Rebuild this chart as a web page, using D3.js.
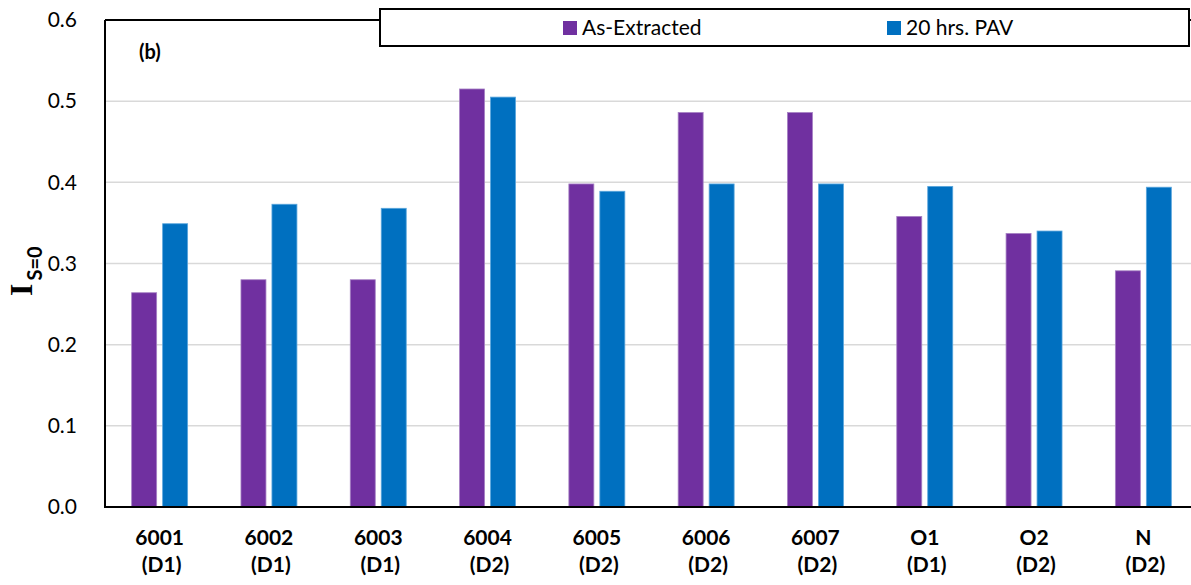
<!DOCTYPE html>
<html>
<head>
<meta charset="utf-8">
<script src="https://cdn.jsdelivr.net/npm/d3@7"></script>
<style>
  html, body { margin: 0; padding: 0; background: #fff; }
  svg { display: block; font-family: Lato, "Open Sans", sans-serif; }
</style>
</head>
<body>
<div id="chart"></div>
<script>
const categories = ['6001', '6002', '6003', '6004', '6005', '6006', '6007', 'O1', 'O2', 'N']
const groups = ['(D1)', '(D1)', '(D1)', '(D2)', '(D2)', '(D2)', '(D2)', '(D1)', '(D2)', '(D2)']
const seriesNames = ['As-Extracted', '20 hrs. PAV']
const asExtracted = [0.264, 0.280, 0.280, 0.515, 0.398, 0.486, 0.486, 0.358, 0.337, 0.291]
const pav20 = [0.349, 0.373, 0.368, 0.505, 0.389, 0.398, 0.398, 0.395, 0.340, 0.394]
const yTicks = [0, 0.1, 0.2, 0.3, 0.4, 0.5, 0.6]

const width = 1191
const height = 585
const PURPLE = '#7030a0'
const BLUE = '#0070c0'

const svg = d3.select('#chart')
  .append('svg')
    .attr('width', width)
    .attr('height', height)

const plotLeft = 105, plotRight = 1198, plotTop = 20, plotBottom = 507

const y = d3.scaleLinear()
  .domain([0, 0.6])
  .range([plotBottom, plotTop])

const x0 = d3.scaleBand()
  .domain(categories)
  .range([plotLeft, plotRight])
  .paddingInner(0.488)
  .paddingOuter(0.244)

const x1 = d3.scaleBand()
  .domain(seriesNames)
  .range([0, x0.bandwidth()])
  .paddingInner(0.1935)

// gridlines
svg.append('g')
  .selectAll('line')
  .data(yTicks.filter(t => t > 0 && t < 0.6))
  .join('line')
    .attr('x1', plotLeft)
    .attr('x2', width)
    .attr('y1', d => y(d))
    .attr('y2', d => y(d))
    .attr('stroke', '#d9d9d9')
    .attr('stroke-width', 1.5)

// bars
const rows = categories.map((c, i) => ({ cat: c, values: [asExtracted[i], pav20[i]] }))
const color = d3.scaleOrdinal().domain(seriesNames).range([PURPLE, BLUE])
const edge = d3.scaleOrdinal().domain(seriesNames).range(['#a680c4', '#5aa6dc'])

svg.append('g')
  .selectAll('g')
  .data(rows)
  .join('g')
    .attr('transform', d => `translate(${x0(d.cat)},0)`)
  .selectAll('rect')
  .data(d => d.values.map((v, j) => ({ key: seriesNames[j], v })))
  .join('rect')
    .attr('x', d => x1(d.key))
    .attr('y', d => y(d.v))
    .attr('width', x1.bandwidth())
    .attr('height', d => y(0) - y(d.v))
    .attr('fill', d => color(d.key))
    .attr('stroke', d => edge(d.key))
    .attr('stroke-width', 0.8)

// frame: left axis, top border, bottom axis
svg.append('line')
  .attr('x1', plotLeft).attr('x2', plotLeft)
  .attr('y1', plotTop).attr('y2', plotBottom)
  .attr('stroke', '#000').attr('stroke-width', 2)
svg.append('line')
  .attr('x1', plotLeft).attr('x2', width)
  .attr('y1', plotTop).attr('y2', plotTop)
  .attr('stroke', '#000').attr('stroke-width', 2)
svg.append('line')
  .attr('x1', plotLeft - 1).attr('x2', width)
  .attr('y1', plotBottom).attr('y2', plotBottom)
  .attr('stroke', '#000').attr('stroke-width', 2)

// y tick labels
const yAxis = d3.axisLeft(y)
  .tickValues(yTicks)
  .tickFormat(d3.format('.1f'))
  .tickSize(0)
  .tickPadding(28)
const ya = svg.append('g')
  .attr('transform', `translate(${plotLeft},0)`)
  .call(yAxis)
ya.select('.domain').remove()
ya.selectAll('text')
  .attr('font-family', 'Lato, sans-serif')
  .attr('font-size', 21)
  .attr('fill', '#000')

// x labels, two lines
const xl = svg.append('g')
  .selectAll('text')
  .data(categories)
  .join('text')
    .attr('x', d => x0(d) + x0.bandwidth() / 2)
    .attr('text-anchor', 'middle')
    .attr('font-size', 21)
    .attr('font-weight', 'bold')
    .attr('fill', '#000')
xl.append('tspan')
  .attr('x', d => x0(d) + x0.bandwidth() / 2)
  .attr('y', 545)
  .text(d => d)
xl.append('tspan')
  .attr('x', d => x0(d) + x0.bandwidth() / 2 + 2)
  .attr('y', 572)
  .text((d, i) => groups[i])

// y axis title I_S=0
const yt = svg.append('text')
  .attr('transform', 'translate(32,296) rotate(-90)')
  .attr('font-weight', 'bold')
  .attr('fill', '#000')
yt.append('tspan')
  .attr('font-family', '"Liberation Serif", "Times New Roman", serif')
  .attr('font-size', 32)
  .text('I')
yt.append('tspan')
  .attr('font-family', 'Lato, sans-serif')
  .attr('font-size', 20)
  .attr('dy', 10)
  .attr('dx', 3)
  .text('S=0')

// panel label
svg.append('text')
  .attr('x', 139)
  .attr('y', 59)
  .attr('font-size', 20)
  .attr('font-weight', 'bold')
  .text('(b)')

// legend
const legend = svg.append('g')
legend.append('rect')
  .attr('x', 380).attr('y', 9)
  .attr('width', 809).attr('height', 37)
  .attr('fill', '#fff')
  .attr('stroke', '#000')
  .attr('stroke-width', 2)
const legendX = [563, 887]
seriesNames.forEach((s, i) => {
  legend.append('rect')
    .attr('x', legendX[i]).attr('y', 21)
    .attr('width', 14).attr('height', 14)
    .attr('fill', color(s))
  legend.append('text')
    .attr('x', legendX[i] + 19)
    .attr('y', 35)
    .attr('font-size', 21)
    .attr('fill', '#000')
    .text(s)
})
</script>
</body>
</html>
